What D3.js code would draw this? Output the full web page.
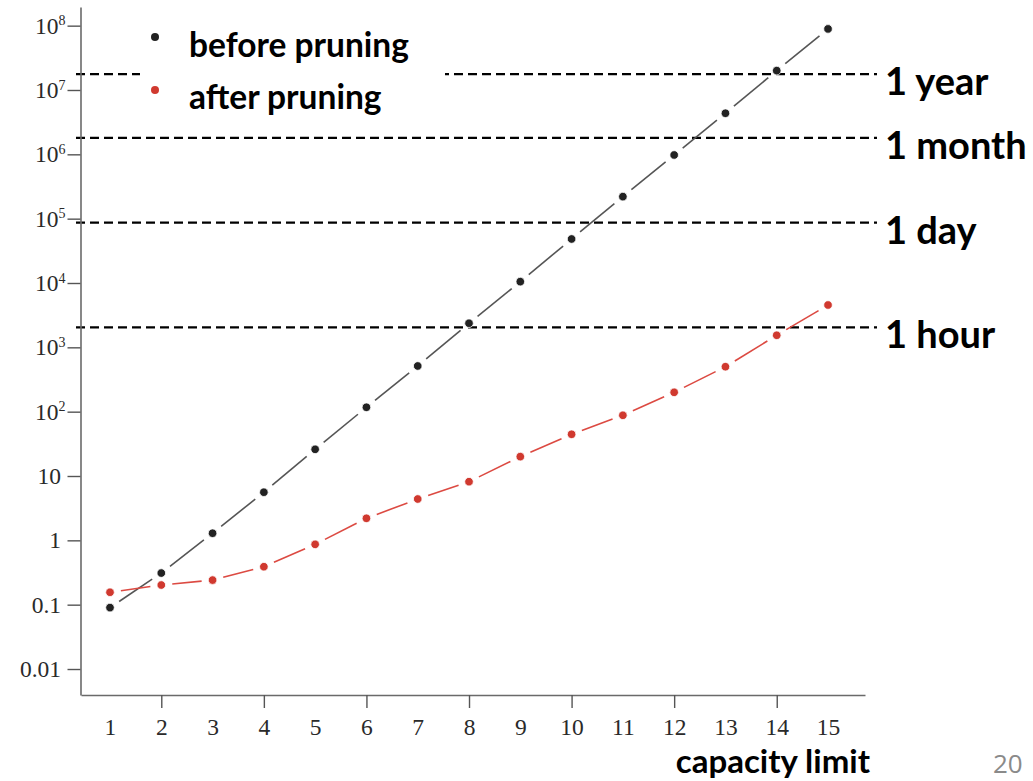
<!DOCTYPE html>
<html>
<head>
<meta charset="utf-8">
<script src="https://cdn.jsdelivr.net/npm/d3@7"></script>
<style>
  body { margin: 0; background: #fff; }
  svg { display: block; }
</style>
</head>
<body>
<svg id="chart" width="1033" height="781"></svg>
<script>
// capacity limit on x, run time (log scale) on y
const capacity = [1, 2, 3, 4, 5, 6, 7, 8, 9, 10, 11, 12, 13, 14, 15];
const beforePruning = [0.09, 0.31, 1.29, 5.6, 26, 117, 513, 2370, 10500, 48300, 220000, 977000, 4.35e6, 2.0e7, 8.9e7];
const afterPruning = [0.156, 0.202, 0.241, 0.389, 0.867, 2.2, 4.39, 8.16, 20.0, 44.5, 87.9, 200, 500, 1540, 4550];
const yTicks = [0.01, 0.1, 1, 10, 1e2, 1e3, 1e4, 1e5, 1e6, 1e7, 1e8];
const yTickLabels = ['0.01', '0.1', '1', '10', '10^2', '10^3', '10^4', '10^5', '10^6', '10^7', '10^8'];
const xTickMarks = [2, 4, 6, 8, 10, 12, 14];
const thresholdLabels = ['1 hour', '1 day', '1 month', '1 year'];
const thresholdValues = [2040, 86700, 1.8e6, 1.76e7];
const seriesNames = ['before pruning', 'after pruning'];

const svg = d3.select('#chart');

const x = d3.scaleLinear().domain([0.4346, 15.721]).range([81, 865]);
const y = d3.scaleLog().domain([Math.pow(10, -2.404), Math.pow(10, 8.29)]).range([695, 7]);

const dotColors = ['#222222', '#d0392f'];
const lineColors = ['#555555', '#dc4a42'];

// threshold lines (drawn first so legend can mask the year line)
const thr = svg.append('g');
thresholdValues.forEach(function (v, i) {
  thr.append('line')
    .attr('x1', 76).attr('x2', 877)
    .attr('y1', y(v)).attr('y2', y(v))
    .attr('stroke', '#000')
    .attr('stroke-width', 2.3)
    .attr('stroke-dasharray', '9,5');
  thr.append('text')
    .attr('x', 885)
    .attr('y', y(v) + 21)
    .attr('font-family', 'Lato, "Open Sans", sans-serif')
    .attr('font-weight', 700)
    .attr('font-size', 38)
    .attr('fill', '#000')
    .text(thresholdLabels[i]);
});

// legend, with white box hiding part of the year line
const legend = svg.append('g');
legend.append('rect')
  .attr('x', 140).attr('y', 15)
  .attr('width', 305).attr('height', 107)
  .attr('fill', '#fff');
seriesNames.forEach(function (name, i) {
  legend.append('circle')
    .attr('cx', 155).attr('cy', 37 + i * 53)
    .attr('r', 4)
    .attr('fill', dotColors[i]);
  legend.append('text')
    .attr('x', 189).attr('y', 57 + i * 52)
    .attr('font-family', 'Lato, "Open Sans", sans-serif')
    .attr('font-weight', 700)
    .attr('font-size', 33.5)
    .attr('fill', '#000')
    .text(name);
});

// axes
const yAxis = d3.axisLeft(y)
  .tickValues(yTicks)
  .tickSize(13)
  .tickSizeOuter(0)
  .tickPadding(6.5)
  .tickFormat(function (d, i) { return ''; });

const gy = svg.append('g')
  .attr('transform', 'translate(80.5,0)')
  .call(yAxis);

gy.selectAll('.tick text').each(function (d, i) {
  const t = d3.select(this);
  const lab = yTickLabels[i];
  t.attr('font-family', '"Liberation Serif", "Times New Roman", serif')
    .attr('font-size', 23.5)
    .attr('fill', '#2a2a2a');
  if (lab.indexOf('^') !== -1) {
    const parts = lab.split('^');
    t.attr('x', -15);
    t.append('tspan').text(parts[0]);
    t.append('tspan')
      .attr('dy', '-0.6em')
      .attr('font-size', 14)
      .text(parts[1]);
  } else {
    t.text(lab);
  }
});

const xAxis = d3.axisBottom(x)
  .tickValues(capacity)
  .tickSize(13)
  .tickSizeOuter(0)
  .tickPadding(10.5)
  .tickFormat(d3.format('d'));

const gx = svg.append('g')
  .attr('transform', 'translate(0,695)')
  .call(xAxis);

gx.selectAll('.tick line')
  .attr('display', function (d) { return xTickMarks.indexOf(d) === -1 ? 'none' : null; });
gx.selectAll('.tick text')
  .attr('font-family', '"Liberation Serif", "Times New Roman", serif')
  .attr('font-size', 23.5)
  .attr('fill', '#2a2a2a');

[gx, gy].forEach(function (g) {
  g.select('.domain').attr('stroke', '#6a6a6a').attr('stroke-width', 1.6);
  g.selectAll('.tick line').attr('stroke', '#555').attr('stroke-width', 1.4);
});

// series: segments between neighbouring points, trimmed around markers
const gap = 11;
[beforePruning, afterPruning].forEach(function (vals, s) {
  const g = svg.append('g');
  const pts = capacity.map(function (c, i) { return [x(c), y(vals[i])]; });
  for (let i = 0; i < pts.length - 1; i++) {
    const a = pts[i], b = pts[i + 1];
    const dx = b[0] - a[0], dy = b[1] - a[1];
    const len = Math.sqrt(dx * dx + dy * dy);
    const ux = dx / len, uy = dy / len;
    g.append('line')
      .attr('x1', a[0] + ux * gap).attr('y1', a[1] + uy * gap)
      .attr('x2', b[0] - ux * gap).attr('y2', b[1] - uy * gap)
      .attr('stroke', lineColors[s])
      .attr('stroke-width', 1.6);
  }
  g.selectAll('circle')
    .data(capacity)
    .enter().append('circle')
    .attr('cx', function (d) { return x(d); })
    .attr('cy', function (d, i) { return y(vals[i]); })
    .attr('r', 4.3)
    .attr('fill', dotColors[s])
    .attr('stroke', '#fff')
    .attr('stroke-width', 0.8);
});

// axis title and page number
svg.append('text')
  .attr('x', 870).attr('y', 773)
  .attr('text-anchor', 'end')
  .attr('font-family', 'Lato, "Open Sans", sans-serif')
  .attr('font-weight', 700)
  .attr('font-size', 33)
  .attr('fill', '#000')
  .text('capacity limit');

svg.append('text')
  .attr('x', 993).attr('y', 773)
  .attr('font-family', '"Open Sans", sans-serif')
  .attr('font-size', 26)
  .attr('fill', '#8a8a8a')
  .text('20');
</script>
</body>
</html>
